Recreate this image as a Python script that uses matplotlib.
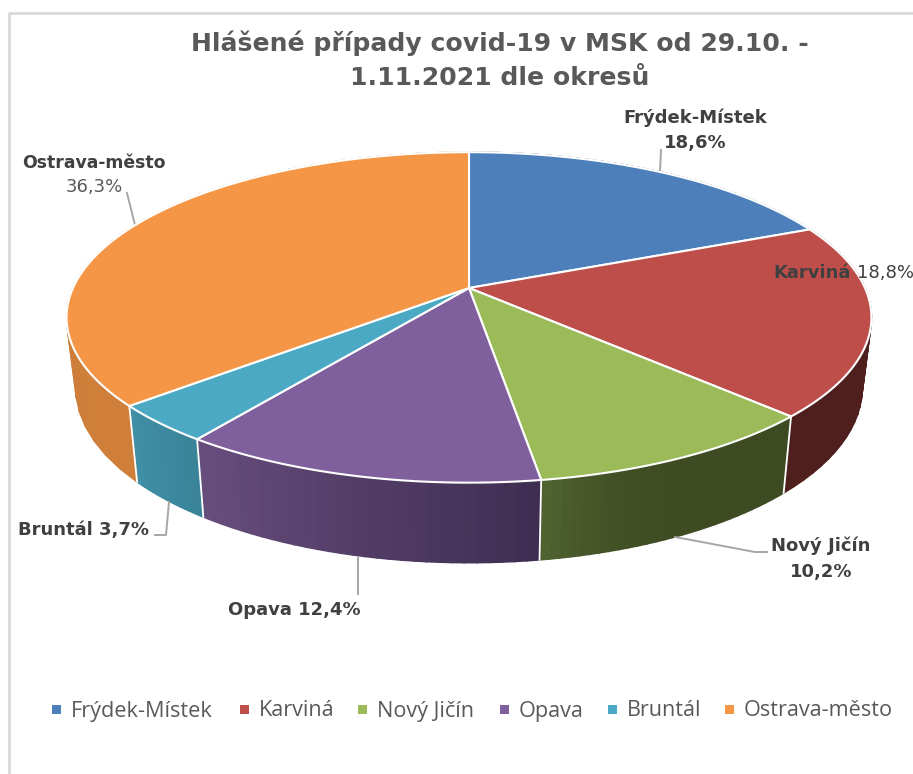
import numpy as np
import matplotlib
matplotlib.use("Agg")
import matplotlib.pyplot as plt
from matplotlib.colors import to_rgb
from matplotlib.patches import Rectangle

categories = ["Frýdek-Místek", "Karviná", "Nový Jičín", "Opava", "Bruntál", "Ostrava-město"]
shares = [18.6, 18.8, 10.2, 12.4, 3.7, 36.3]
title_lines = ["Hlášené případy covid-19 v MSK od 29.10. -", "1.11.2021 dle okresů"]

top_colors = ["#4d7fbb", "#bd4e4a", "#9bbb59", "#7f609c", "#4ba9c3", "#f49645"]
side_colors = [("#2d4c72", "#2d4c72"), ("#4f1f1d", "#4f1f1d"), ("#3e4a22", "#4f6230"),
               ("#3f2e52", "#674d7c"), ("#3a8398", "#3f8fa6"), ("#cf7f3a", "#c97b38")]


# disc point -> pixel position, the pie is seen in perspective
def top_face(t, r=1.0):
    u = r * np.sin(t)
    v = r * np.cos(t)
    w = 1 + 0.178 * v
    return 469 + 396 * u / w, 288 - 160 * v / w


def bottom_face(t):
    x, y = top_face(t)
    return 469 + (x - 469) * 0.977, y + 68 - 12 * np.cos(t)


def pct(value):
    return f"{value:.1f}%".replace(".", ",")


fig = plt.figure(figsize=(9.13, 7.74), dpi=100)
ax = fig.add_axes([0, 0, 1, 1])
ax.set_xlim(0, 913)
ax.set_ylim(774, 0)
ax.axis("off")

# chart frame, cut off at right and bottom in the screenshot
ax.plot([9, 9, 913], [774, 13, 13], color="#d9d9d9", lw=2, zorder=1)

edges = np.radians(np.cumsum([0] + shares) * 3.6)

# sides first, the top faces cover whatever is at the back
for i in range(len(shares)):
    ts = np.linspace(edges[i], edges[i + 1], 30)
    c0 = np.array(to_rgb(side_colors[i][0]))
    c1 = np.array(to_rgb(side_colors[i][1]))
    for j in range(len(ts) - 1):
        x0, y0 = top_face(ts[j])
        x1, y1 = top_face(ts[j + 1])
        x2, y2 = bottom_face(ts[j + 1])
        x3, y3 = bottom_face(ts[j])
        f = j / (len(ts) - 2)
        if i == 2:
            # green goes dark quickly, then stays flat
            f = f ** 4
        c = c0 + (c1 - c0) * f
        ax.fill([x0, x1, x2, x3], [y0, y1, y2, y3], color=c, lw=1.2, zorder=2)

# white seams between the sides
for e in edges:
    if np.cos(e) < 0.1:
        x0, y0 = top_face(e)
        x1, y1 = bottom_face(e)
        ax.plot([x0, x1], [y0, y1], color="white", lw=1.3, zorder=3)

for i in range(len(shares)):
    ts = np.linspace(edges[i], edges[i + 1], 120)
    xs, ys = top_face(ts)
    cx, cy = top_face(0.0, 0.0)
    ax.fill(np.r_[cx, xs], np.r_[cy, ys], facecolor=top_colors[i], edgecolor="white",
            lw=1.5, joinstyle="round", zorder=4)

# leader lines
leaders = [
    ([661, 660], [150, 172]),
    ([127, 135], [193, 225]),
    ([155, 166, 169], [535, 535, 502]),
    ([767, 755, 675], [552, 552, 537]),
    ([358, 358], [557, 594]),
]
for lx, ly in leaders:
    ax.plot(lx, ly, color="#a6a6a6", lw=1.4, zorder=3)

label_font = "DejaVu Sans"
dark = "#404040"
lab = dict(family=label_font, size=13, va="center", zorder=5)
ax.text(695, 118, categories[0], weight="bold", color=dark, ha="center", **lab)
ax.text(695, 143, pct(shares[0]), weight="bold", color=dark, ha="center", **lab)
ax.text(773, 273, categories[1], weight="bold", color=dark, ha="left", **lab)
ax.text(857, 273, pct(shares[1]), color=dark, ha="left", **lab)
ax.text(821, 546, categories[2], weight="bold", color=dark, ha="center", **lab)
ax.text(821, 572, pct(shares[2]), weight="bold", color=dark, ha="center", **lab)
ax.text(294, 610, categories[3] + " " + pct(shares[3]), weight="bold", color=dark, ha="center", **lab)
ax.text(83, 530, categories[4] + " " + pct(shares[4]), weight="bold", color=dark, ha="center", **lab)
ax.text(94, 163, categories[5], weight="bold", size=12.4, color=dark, ha="center", family=label_font, va="center", zorder=5)
ax.text(94, 187, pct(shares[5]), color="#595959", ha="center", **lab)

ax.text(500, 43, title_lines[0], family="DejaVu Sans", weight="bold", size=18.1, color="#595959", ha="center", va="center")
ax.text(500, 78, title_lines[1], family="DejaVu Sans", weight="bold", size=18.1, color="#595959", ha="center", va="center")

# legend along the bottom
legend_x = [52, 240, 358, 500, 608, 725]
for i, name in enumerate(categories):
    ax.add_patch(Rectangle((legend_x[i], 705), 9, 9, facecolor=top_colors[i], edgecolor="none"))
    ax.text(legend_x[i] + 19, 711, name, family="Open Sans", size=15.6, color="#595959", ha="left", va="center")

fig.savefig("out.png", dpi=100, facecolor="white")
